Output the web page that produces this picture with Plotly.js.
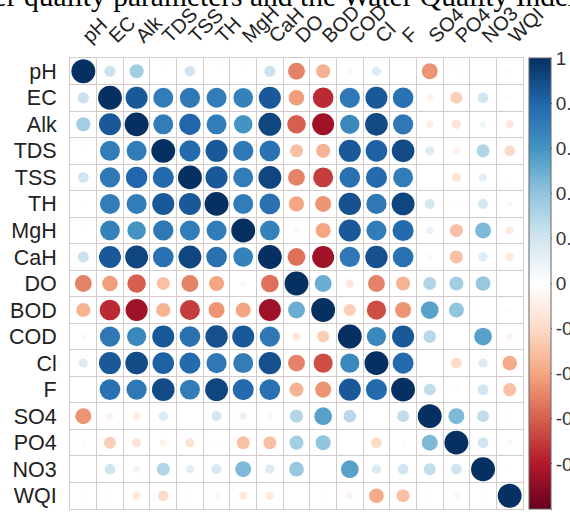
<!DOCTYPE html>
<html>
<head>
<meta charset="utf-8">
<script src="https://cdn.plot.ly/plotly-3.0.1.min.js"></script>
<style>html,body{margin:0;padding:0;background:#fff;overflow:hidden}#chart{width:570px;height:517px}</style>
</head>
<body>
<div id="chart"></div>
<script>
// Variable names (rows top->bottom, columns left->right)
const variables = ["pH","EC","Alk","TDS","TSS","TH","MgH","CaH","DO","BOD","COD","Cl","F","SO4","PO4","NO3","WQI"];

// Correlation matrix rows
const r_pH  = [1, 0.22, 0.35, 0.02, 0.2, 0.02, -0.02, 0.22, -0.5, -0.35, 0.05, 0.15, 0, -0.45, -0.03, 0, 0.03];
const r_EC  = [0.22, 1, 0.85, 0.7, 0.72, 0.7, 0.68, 0.85, -0.42, -0.75, 0.72, 0.85, 0.75, -0.08, -0.25, 0.2, 0.03];
const r_Alk = [0.35, 0.85, 1, 0.7, 0.8, 0.7, 0.6, 0.92, -0.6, -0.85, 0.65, 0.9, 0.72, -0.1, -0.15, 0.08, -0.12];
const r_TDS = [0.02, 0.7, 0.7, 1, 0.78, 0.85, 0.72, 0.75, -0.3, -0.35, 0.85, 0.82, 0.9, 0.15, -0.08, 0.3, -0.2];
const r_TSS = [0.2, 0.72, 0.8, 0.78, 1, 0.85, 0.7, 0.92, -0.5, -0.7, 0.75, 0.78, 0.7, 0, -0.15, 0.12, -0.03];
const r_TH  = [0.02, 0.7, 0.7, 0.85, 0.85, 1, 0.7, 0.75, -0.4, -0.45, 0.88, 0.72, 0.92, 0.18, -0.03, 0.18, -0.05];
const r_MgH = [-0.02, 0.68, 0.6, 0.72, 0.7, 0.7, 1, 0.68, -0.05, -0.4, 0.85, 0.7, 0.78, 0.1, -0.3, 0.45, -0.12];
const r_CaH = [0.22, 0.85, 0.92, 0.75, 0.92, 0.75, 0.68, 1, -0.55, -0.85, 0.72, 0.88, 0.75, -0.05, -0.3, 0.15, -0.12];
const r_DO  = [-0.5, -0.42, -0.6, -0.3, -0.5, -0.4, -0.05, -0.55, 1, 0.5, -0.12, -0.5, -0.35, 0.3, 0.35, 0.38, 0];
const r_BOD = [-0.35, -0.75, -0.85, -0.35, -0.7, -0.45, -0.4, -0.85, 0.5, 1, -0.25, -0.65, -0.45, 0.55, 0.4, 0, 0.03];
const r_COD = [0.05, 0.72, 0.65, 0.85, 0.75, 0.88, 0.85, 0.72, -0.12, -0.25, 1, 0.65, 0.85, 0.28, 0, 0.55, -0.08];
const r_Cl  = [0.15, 0.85, 0.9, 0.82, 0.78, 0.72, 0.7, 0.88, -0.5, -0.65, 0.65, 1, 0.78, 0, -0.2, 0.15, -0.38];
const r_F   = [0, 0.75, 0.72, 0.9, 0.7, 0.92, 0.78, 0.75, -0.35, -0.45, 0.85, 0.78, 1, 0.25, 0.03, 0.2, -0.3];
const r_SO4 = [-0.45, -0.08, -0.1, 0.15, 0, 0.18, 0.1, -0.05, 0.3, 0.55, 0.28, 0, 0.25, 1, 0.45, 0.25, -0.03];
const r_PO4 = [-0.03, -0.25, -0.15, -0.08, -0.15, -0.03, -0.3, -0.3, 0.35, 0.4, 0, -0.2, 0.03, 0.45, 1, 0.2, 0.05];
const r_NO3 = [0, 0.2, 0.08, 0.3, 0.12, 0.18, 0.45, 0.15, 0.38, 0, 0.55, 0.15, 0.2, 0.25, 0.2, 1, -0.03];
const r_WQI = [0.03, 0.03, -0.12, -0.2, -0.03, -0.05, -0.12, -0.12, 0, 0.03, -0.08, -0.38, -0.3, -0.03, 0.05, -0.03, 1];

const matrixRows = [r_pH, r_EC, r_Alk, r_TDS, r_TSS, r_TH, r_MgH, r_CaH, r_DO, r_BOD, r_COD, r_Cl, r_F, r_SO4, r_PO4, r_NO3, r_WQI];

const colorbarTicks = [1, 0.8, 0.6, 0.4, 0.2, 0, -0.2, -0.4, -0.6, -0.8, -1];
const colorbarTickText = ["1", "0.8", "0.6", "0.4", "0.2", "0", "-0.2", "-0.4", "-0.6", "-0.8", "-1"];

const captionText = "water quality parameters and the Water Quality Index";

// ---- layout geometry ----
const W = 570, H = 517;
const M = {l: 70, r: 47, t: 58, b: 8, autoexpand: false};
const plotW = W - M.l - M.r, plotH = H - M.t - M.b;
const n = variables.length;
const cell = Math.min(plotW, plotH) / n;
const maxDiam = 0.9 * cell;

const xs = [], ys = [], cs = [], ss = [], tx = [];
matrixRows.forEach((row, i) => {
  row.forEach((v, j) => {
    xs.push(j); ys.push(i); cs.push(v);
    ss.push(maxDiam * Math.sqrt(Math.abs(v)));
    tx.push(variables[i] + " / " + variables[j] + ": " + v);
  });
});

const rdbu = ["#67001F", "#B2182B", "#D6604D", "#F4A582", "#FDDBC7", "#FFFFFF", "#D1E5F0", "#92C5DE", "#4393C3", "#2166AC", "#053061"];
const colorscale = rdbu.map((c, k) => [k / (rdbu.length - 1), c]);

const trace = {
  type: "scatter", mode: "markers",
  x: xs, y: ys, text: tx, hoverinfo: "text",
  marker: {
    size: ss, sizemode: "diameter",
    color: cs, cmin: -1, cmax: 1, colorscale: colorscale,
    line: {width: 0},
    opacity: 1,
    colorbar: {
      thickness: 22, thicknessmode: "pixels",
      len: 1, lenmode: "fraction",
      x: (529 - M.l) / plotW, xanchor: "left", xpad: 0,
      y: 0.5, yanchor: "middle", ypad: 0,
      outlinewidth: 1, outlinecolor: "#666",
      tickmode: "array", tickvals: colorbarTicks, ticktext: colorbarTickText,
      ticks: "outside", ticklen: 1, tickcolor: "#666",
      tickfont: {family: "Liberation Sans, Arial, sans-serif", size: 19, color: "#333"}
    }
  }
};

const gridCol = "#d4cccc";
const rowFont = {family: "Liberation Sans, Arial, sans-serif", size: 21.5, color: "#222"};
const colFont = {family: "Liberation Sans, Arial, sans-serif", size: 20, color: "#222"};

const layout = {
  width: W, height: H,
  margin: M,
  paper_bgcolor: "#fff", plot_bgcolor: "#fff",
  showlegend: false,
  xaxis: {
    side: "top", range: [-0.5, n - 0.5], fixedrange: true, automargin: false,
    tickmode: "array", tickvals: variables.map((_, k) => k), ticktext: variables,
    tickangle: -45, tickfont: colFont,
    ticks: "outside", ticklen: 2, tickcolor: "rgba(0,0,0,0)",
    showgrid: false, zeroline: false,
    showline: true, mirror: true, linecolor: gridCol, linewidth: 1,
    minor: {tick0: 0.5, dtick: 1, showgrid: true, gridcolor: gridCol, gridwidth: 1, ticks: ""}
  },
  yaxis: {
    range: [n - 0.5, -0.5], fixedrange: true, automargin: false,
    tickmode: "array", tickvals: variables.map((_, k) => k), ticktext: variables,
    tickfont: rowFont,
    ticks: "outside", ticklen: 8, tickcolor: "rgba(0,0,0,0)",
    showgrid: false, zeroline: false,
    showline: true, mirror: true, linecolor: gridCol, linewidth: 1,
    minor: {tick0: 0.5, dtick: 1, showgrid: true, gridcolor: gridCol, gridwidth: 1, ticks: ""}
  },
  annotations: [{
    text: captionText, showarrow: false,
    xref: "paper", yref: "paper",
    x: (-51 - M.l) / plotW, xanchor: "left",
    y: (H - M.b + 4) / plotH, yanchor: "middle",
    font: {family: "Liberation Serif, Times New Roman, serif", size: 29.5, color: "#000"}
  }]
};

Plotly.newPlot("chart", [trace], layout, {displayModeBar: false, staticPlot: true});
</script>
</body>
</html>
